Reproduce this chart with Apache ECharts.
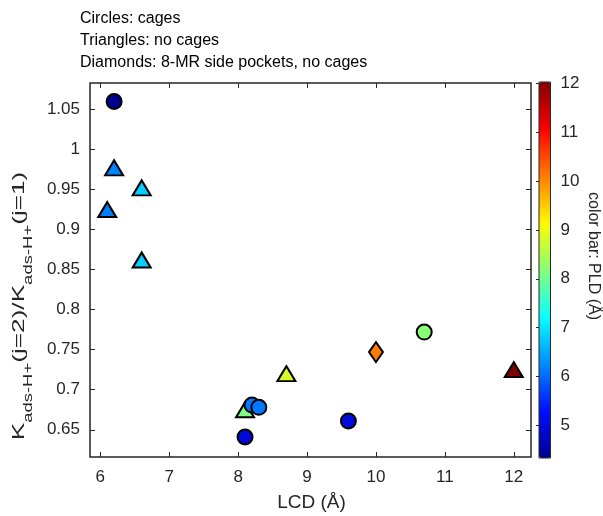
<!DOCTYPE html>
<html><head><meta charset="utf-8">
<script src="https://cdn.jsdelivr.net/npm/echarts@6/dist/echarts.min.js"></script>
<style>html,body{margin:0;padding:0;background:#fff}#c{width:603px;height:516px}</style>
</head><body><div id="c"></div>
<script>
const xTicks = [6, 7, 8, 9, 10, 11, 12];
const yTicks = [0.65, 0.7, 0.75, 0.8, 0.85, 0.9, 0.95, 1, 1.05];
const cbTicks = [5, 6, 7, 8, 9, 10, 11, 12];

const circleLCD = [6.2, 8.1, 9.6, 8.2, 8.3, 10.7];
const circleK   = [1.060, 0.641, 0.661, 0.681, 0.678, 0.772];
const circlePLD = [4.33, 4.95, 5.0, 6.1, 6.1, 8.2];

const triLCD = [6.2, 6.6, 6.1, 6.6, 8.1, 8.7, 12.0];
const triK   = [0.977, 0.952, 0.925, 0.862, 0.675, 0.720, 0.725];
const triPLD = [6.2, 6.8, 6.15, 6.8, 8.1, 8.8, 12.03];

const diaLCD = [10.0];
const diaK   = [0.747];
const diaPLD = [10.1];

const titleLines = ['Circles: cages', 'Triangles: no cages', 'Diamonds: 8-MR side pockets, no cages'];
const yLabelParts = [['K', 0], ['ads-H+', 1], ['(j=2)/K', 0], ['ads-H+', 1], ['(j=1)', 0]];
const jet = ['#00008f', '#000eff', '#008cff', '#0affff', '#87ff78', '#fffa00', '#ff7c00', '#fc0000', '#800000'];

const FONT = '"Liberation Sans", Arial, sans-serif';
const AX = '#262626';

function build(xs, ys, cs) { return xs.map((x, i) => [x, ys[i], cs[i]]); }

// layout of the y-axis title (main text + subscripts)
const MAIN_FS = 17, SUB_FS = 12;
const mctx = document.createElement('canvas').getContext('2d');
const pieceW = yLabelParts.map(p => { mctx.font = (p[1] ? SUB_FS : MAIN_FS) + 'px ' + FONT; return mctx.measureText(p[0]).width; });
const totalW = pieceW.reduce((a, b) => a + b, 0);
let cursor = -totalW / 2;
const yLabelChildren = yLabelParts.map((p, i) => {
  const isSub = p[1] === 1;
  const el = {type: 'text', x: cursor, y: isSub ? 8 - 0.33 * SUB_FS : -0.33 * MAIN_FS,
    style: {text: p[0], fontSize: isSub ? SUB_FS : MAIN_FS, fontFamily: FONT, fill: AX, align: 'left', verticalAlign: 'middle'}};
  cursor += pieceW[i];
  return el;
});

const chart = echarts.init(document.getElementById('c'), null, {renderer: 'canvas'});
const tickStyle = {show: true, inside: true, length: 5, lineStyle: {color: AX, width: 1}};
chart.setOption({
  animation: false,
  textStyle: {fontFamily: FONT},
  title: {
    text: titleLines.join('\n'), left: 80, top: 8, padding: 0,
    textStyle: {fontSize: 16, fontWeight: 'normal', color: '#000', lineHeight: 22, fontFamily: FONT}
  },
  grid: [
    {left: 90, top: 83, width: 441, height: 374, show: true, borderColor: AX, borderWidth: 1.5, backgroundColor: 'transparent'},
    {left: 539, top: 82, width: 11.5, height: 376}
  ],
  xAxis: [
    {gridIndex: 0, type: 'value', min: 5.85, max: 12.25, position: 'bottom',
     axisLine: {show: false}, splitLine: {show: false},
     axisTick: Object.assign({customValues: xTicks}, tickStyle),
     axisLabel: {customValues: xTicks, fontSize: 17, color: AX, margin: 12}},
    {gridIndex: 0, type: 'value', min: 5.85, max: 12.25, position: 'top',
     axisLine: {show: false}, splitLine: {show: false},
     axisTick: Object.assign({customValues: xTicks}, tickStyle),
     axisLabel: {show: false}},
    {gridIndex: 1, type: 'value', min: 0, max: 1, show: false}
  ],
  yAxis: [
    {gridIndex: 0, type: 'value', min: 0.616, max: 1.083, position: 'left',
     axisLine: {show: false}, splitLine: {show: false},
     axisTick: Object.assign({customValues: yTicks}, tickStyle),
     axisLabel: {customValues: yTicks, fontSize: 17, color: AX, margin: 10}},
    {gridIndex: 0, type: 'value', min: 0.616, max: 1.083, position: 'right',
     axisLine: {show: false}, splitLine: {show: false},
     axisTick: Object.assign({customValues: yTicks}, tickStyle),
     axisLabel: {show: false}},
    {gridIndex: 1, type: 'value', min: 4.33, max: 12.03, position: 'right', z: 10,
     axisLine: {show: false}, splitLine: {show: false},
     axisTick: {show: true, inside: true, length: 3, customValues: cbTicks, lineStyle: {color: AX, width: 1}},
     axisLabel: {customValues: cbTicks, fontSize: 17, color: AX, margin: 10}}
  ],
  visualMap: {
    type: 'continuous', min: 4.33, max: 12.03, dimension: 2, seriesIndex: [0, 1, 2],
    left: 539, top: 82, itemWidth: 11.5, itemHeight: 376, padding: 0,
    calculable: false, hoverLink: false, inRange: {color: jet}
  },
  graphic: [
    {type: 'rect', z: 100, shape: {x: 539, y: 82, width: 11.5, height: 376},
     style: {fill: 'none', stroke: AX, lineWidth: 1}},
    {type: 'text', x: 311.5, y: 503, z: 100,
     style: {text: 'LCD (Å)', fontSize: 19, fontFamily: FONT, fill: AX, align: 'center', verticalAlign: 'middle'}},
    {type: 'text', x: 593, y: 256, rotation: -Math.PI / 2, z: 100,
     style: {text: 'color bar: PLD (Å)', fontSize: 16, fontFamily: FONT, fill: AX, align: 'center', verticalAlign: 'middle'}},
    {type: 'group', x: 25, y: 306, rotation: Math.PI / 2, scaleX: 1.54, z: 100, children: yLabelChildren}
  ],
  series: [
    {type: 'scatter', xAxisIndex: 0, yAxisIndex: 0, symbol: 'triangle', symbolSize: [18, 15],
     data: build(triLCD, triK, triPLD), itemStyle: {borderColor: '#000', borderWidth: 2, opacity: 1},
     emphasis: {disabled: true}},
    {type: 'scatter', xAxisIndex: 0, yAxisIndex: 0, symbol: 'circle', symbolSize: 15,
     data: build(circleLCD, circleK, circlePLD), itemStyle: {borderColor: '#000', borderWidth: 2, opacity: 1},
     emphasis: {disabled: true}},
    {type: 'scatter', xAxisIndex: 0, yAxisIndex: 0, symbol: 'diamond', symbolSize: [14, 20],
     data: build(diaLCD, diaK, diaPLD), itemStyle: {borderColor: '#000', borderWidth: 2, opacity: 1},
     emphasis: {disabled: true}}
  ]
});
</script>
</body></html>
